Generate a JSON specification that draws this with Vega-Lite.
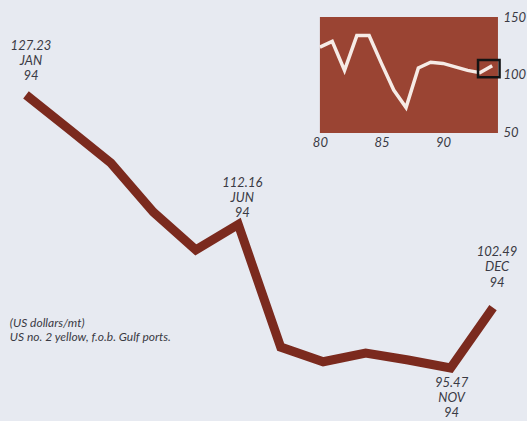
{
  "$schema": "https://vega.github.io/schema/vega-lite/v6.json",
  "width": 527,
  "height": 421,
  "autosize": "none",
  "padding": 0,
  "background": "#e7eaf1",
  "config": {"view": {"stroke": null}},
  "datasets": {
    "prices": [
      {"month": 1, "price": 127.23},
      {"month": 2, "price": 123.3},
      {"month": 3, "price": 119.3},
      {"month": 4, "price": 113.6},
      {"month": 5, "price": 109.2},
      {"month": 6, "price": 112.16},
      {"month": 7, "price": 97.9},
      {"month": 8, "price": 96.2},
      {"month": 9, "price": 97.2},
      {"month": 10, "price": 96.4},
      {"month": 11, "price": 95.47},
      {"month": 12, "price": 102.49}
    ],
    "labels": [
      {"month": 1, "price": 127.23, "label": "127.23\nJAN\n94"},
      {"month": 6, "price": 112.16, "label": "112.16\nJUN\n94"},
      {"month": 11, "price": 95.47, "label": "95.47\nNOV\n94"},
      {"month": 12, "price": 102.49, "label": "102.49\nDEC\n94"}
    ],
    "note": [
      {"month": 0.62, "price": 100.7, "label": "(US dollars/mt)\nUS no. 2 yellow, f.o.b. Gulf ports."}
    ],
    "inset": [
      {"year": 80, "index": 124},
      {"year": 81, "index": 129},
      {"year": 82, "index": 104},
      {"year": 83, "index": 134},
      {"year": 84, "index": 134},
      {"year": 85, "index": 110},
      {"year": 86, "index": 87},
      {"year": 87, "index": 72},
      {"year": 88, "index": 106},
      {"year": 89, "index": 111},
      {"year": 90, "index": 110},
      {"year": 91, "index": 107},
      {"year": 92, "index": 104},
      {"year": 93, "index": 102},
      {"year": 94, "index": 108}
    ],
    "panel": [{"year": 80, "year2": 94.47, "index": 50, "index2": 150}],
    "box": [{"year": 92.85, "year2": 94.6, "index": 98, "index2": 113}]
  },
  "layer": [
    {
      "encoding": {
        "x": {"field": "month", "type": "quantitative", "scale": {"domain": [0.388, 12.8], "nice": false, "zero": false}, "axis": null},
        "y": {"field": "price", "type": "quantitative", "scale": {"domain": [89.31, 138.26], "nice": false, "zero": false}, "axis": null}
      },
      "layer": [
        {
          "data": {"name": "prices"},
          "mark": {"type": "line", "color": "#7b2a1e", "strokeWidth": 9, "strokeJoin": "miter"}
        },
        {
          "data": {"name": "labels"},
          "transform": [{"filter": "datum.month == 1"}],
          "mark": {"type": "text", "align": "center", "baseline": "middle", "dx": 5, "dy": -49, "lineBreak": "\n", "lineHeight": 15, "font": "Lato", "fontStyle": "italic", "fontSize": 13, "color": "#3a3a44"},
          "encoding": {"text": {"field": "label"}}
        },
        {
          "data": {"name": "labels"},
          "transform": [{"filter": "datum.month == 6"}],
          "mark": {"type": "text", "align": "center", "baseline": "middle", "dx": 4, "dy": -41, "lineBreak": "\n", "lineHeight": 15, "font": "Lato", "fontStyle": "italic", "fontSize": 13, "color": "#3a3a44"},
          "encoding": {"text": {"field": "label"}}
        },
        {
          "data": {"name": "labels"},
          "transform": [{"filter": "datum.month == 12"}],
          "mark": {"type": "text", "align": "center", "baseline": "middle", "dx": 4, "dy": -56, "lineBreak": "\n", "lineHeight": 15.5, "font": "Lato", "fontStyle": "italic", "fontSize": 13, "color": "#3a3a44"},
          "encoding": {"text": {"field": "label"}}
        },
        {
          "data": {"name": "labels"},
          "transform": [{"filter": "datum.month == 11"}],
          "mark": {"type": "text", "align": "center", "baseline": "middle", "dx": 1, "dy": 15, "lineBreak": "\n", "lineHeight": 15, "font": "Lato", "fontStyle": "italic", "fontSize": 13, "color": "#3a3a44"},
          "encoding": {"text": {"field": "label"}}
        },
        {
          "data": {"name": "note"},
          "mark": {"type": "text", "align": "left", "baseline": "middle", "lineBreak": "\n", "lineHeight": 14, "font": "Lato", "fontStyle": "italic", "fontSize": 12, "color": "#3a3a44"},
          "encoding": {"text": {"field": "label"}}
        }
      ]
    },
    {
      "encoding": {
        "x": {"field": "year", "type": "quantitative", "scale": {"domain": [54.0, 96.83], "nice": false, "zero": false}, "axis": {"orient": "bottom", "offset": -288, "values": [80, 85, 90], "domain": false, "ticks": false, "grid": false, "labelPadding": 3, "labelFont": "Lato", "labelFontStyle": "italic", "labelFontSize": 13, "labelColor": "#3a3a44", "title": null}},
        "y": {"field": "index", "type": "quantitative", "scale": {"domain": [-198.3, 164.66], "nice": false, "zero": false}, "axis": {"orient": "right", "offset": -29, "values": [50, 100, 150], "domain": false, "ticks": false, "grid": false, "labelPadding": 5, "labelFont": "Lato", "labelFontStyle": "italic", "labelFontSize": 13, "labelColor": "#3a3a44", "title": null}}
      },
      "layer": [
        {
          "data": {"name": "panel"},
          "mark": {"type": "rect", "color": "#9a4433"},
          "encoding": {
            "x2": {"field": "year2"},
            "y2": {"field": "index2"}
          }
        },
        {
          "data": {"name": "inset"},
          "mark": {"type": "line", "color": "#f6ebe6", "strokeWidth": 3.5, "strokeJoin": "miter"}
        },
        {
          "data": {"name": "box"},
          "mark": {"type": "rect", "fill": null, "fillOpacity": 0, "stroke": "#141414", "strokeWidth": 2.5},
          "encoding": {"x2": {"field": "year2"}, "y2": {"field": "index2"}}
        }
      ]
    }
  ],
  "resolve": {"scale": {"x": "independent", "y": "independent"}}
}
